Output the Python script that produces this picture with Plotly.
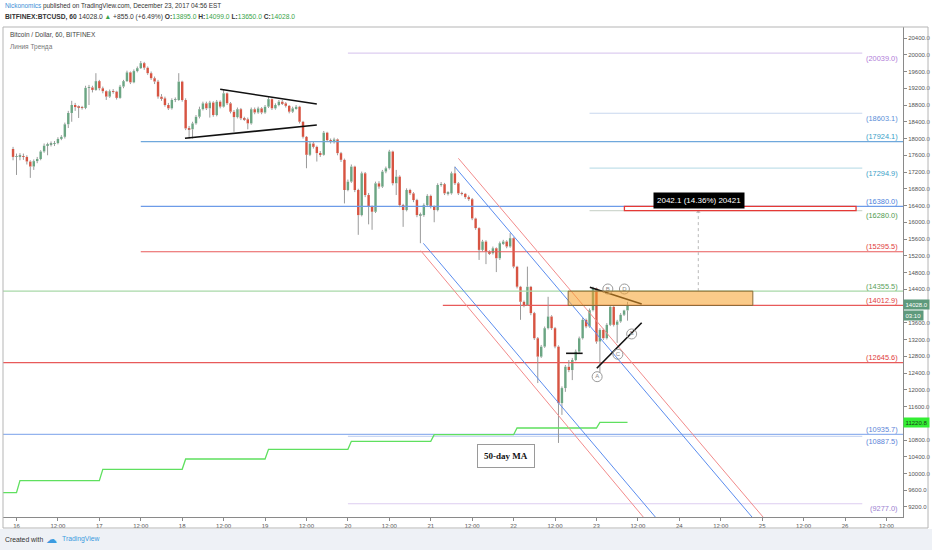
import plotly.graph_objects as go

# ------------------------------------------------------------------ data
FIRST_OPEN = 17750.0
LAST_HOUR = 177          # hours after Dec 16 00:00 of the last (current) candle

close = [17560, 17570, 17580, 17560, 17450, 17330, 17460, 17510, 17690, 17830,
         17860, 17870, 17890, 17990, 18040, 18340, 18610, 18800, 18750, 18740,
         18730, 19210, 19220, 19160, 19370, 19200, 19130, 19000, 19130, 19120,
         18970, 19240, 19370, 19580, 19340, 19610, 19680, 19800, 19690, 19560,
         19440, 19360, 19000, 18960, 18800, 18720, 18920, 18920, 19360, 18920,
         18240, 18220, 18360, 18520, 18700, 18840, 18720, 18860, 18560, 18880,
         18760, 19080, 18840, 18640, 18510, 18700, 18480, 18460, 18360, 18700,
         18620, 18720, 18620, 18760, 18940, 18720, 18800, 18880, 18840, 18780,
         18640, 18720, 18760, 18400, 18040, 17610, 17880, 17800, 17650, 17610,
         18140, 17960, 17920, 17980, 17650, 17490, 16770, 16970, 17330, 16770,
         16170, 17170, 16650, 16370, 16250, 16930, 16850, 17210, 17290, 17690,
         16930, 17090, 16410, 16290, 16770, 16690, 16530, 16170, 16170, 16410,
         16630, 16370, 16290, 16890, 16910, 16690, 16690, 17170, 16930, 16690,
         16680, 16600, 16550, 16090, 15860, 15340, 15540, 15300, 15260, 15380,
         15140, 15500, 15540, 15420, 15620, 14940, 14460, 14100, 14020, 14460,
         13830, 13230, 12790, 13030, 13470, 13750, 13470, 13030, 11680, 12040,
         12550, 12470, 12710, 12910, 13230, 13670, 13510, 13900, 14420, 13150,
         13430, 13230, 13550, 13980, 13550, 13630, 13790, 13895, 14028]

high = [17800, 17640, 17650, 17640, 17600, 17480, 17500, 17560, 17720, 17880,
        17900, 17930, 17940, 18030, 18080, 18380, 18660, 18900, 18850, 18790,
        18780, 19260, 19280, 19260, 19560, 19400, 19240, 19150, 19170, 19180,
        19140, 19280, 19400, 19620, 19600, 19650, 19720, 19850, 19830, 19720,
        19600, 19480, 19400, 19060, 19000, 18850, 18960, 18980, 19560, 19380,
        18960, 18300, 18400, 18560, 18760, 18880, 18880, 18900, 18890, 18920,
        18910, 19160, 19100, 18870, 18680, 18740, 18730, 18520, 18500, 18740,
        18740, 18760, 18750, 18800, 18990, 18960, 18840, 18920, 18920, 18870,
        18800, 18760, 18800, 18780, 18420, 18060, 17920, 17920, 17830, 17700,
        18180, 18160, 18000, 18020, 18000, 17680, 17520, 17020, 17380, 17350,
        16800, 17210, 17200, 16700, 16400, 16970, 16980, 17250, 17330, 17730,
        17710, 17250, 17120, 16440, 16810, 16800, 16720, 16560, 16230, 16450,
        16670, 16660, 16400, 16930, 16960, 16940, 16740, 17210, 17330, 16960,
        16730, 16700, 16640, 16580, 16110, 15880, 15580, 15570, 15330, 15420,
        15400, 15540, 15580, 15570, 15740, 15640, 14960, 14480, 14130, 14940,
        14480, 13860, 13260, 13070, 13510, 14220, 13780, 13500, 13060, 12080,
        12590, 12710, 12760, 12960, 13270, 13710, 13700, 13940, 14460, 14440,
        13470, 13460, 13590, 14020, 14010, 13670, 13830, 13910, 14099]

low = [17480, 17130, 17480, 17490, 17380, 17060, 17250, 17410, 17480, 17660,
       17600, 17810, 17820, 17860, 17960, 18000, 18250, 18400, 18660, 18490,
       18690, 18700, 18800, 19100, 19140, 19150, 19080, 18920, 18970, 19070,
       18930, 18950, 19200, 19350, 19300, 19320, 19580, 19660, 19640, 19520,
       19400, 19300, 18950, 18900, 18760, 18680, 18690, 18870, 18900, 18880,
       18200, 18000, 18000, 18330, 18480, 18670, 18680, 18500, 18520, 18530,
       18720, 18740, 18800, 18600, 18160, 18480, 18440, 18420, 18220, 18330,
       18580, 18590, 18580, 18590, 18730, 18680, 18690, 18770, 18800, 18740,
       18600, 18610, 18690, 18360, 18000, 17290, 17580, 17760, 17450, 17560,
       17590, 17920, 17880, 17880, 17600, 17440, 16450, 16740, 16940, 16720,
       15700, 16140, 16600, 15950, 15820, 16220, 16800, 16820, 17170, 17260,
       16880, 16650, 16360, 15890, 16260, 16650, 16480, 16120, 15500, 16130,
       16380, 16330, 16000, 16260, 16850, 16650, 16640, 16660, 16890, 16650,
       16640, 16560, 16510, 16050, 15820, 15100, 15300, 15000, 15220, 15230,
       14810, 15100, 15460, 15380, 15390, 14900, 14420, 13670, 13970, 14000,
       13780, 13190, 12160, 12760, 13000, 13440, 13430, 12990, 10730, 11400,
       11950, 12420, 12230, 12680, 12880, 13200, 13470, 13480, 13870, 13100,
       12400, 13190, 13200, 13520, 13510, 13120, 13600, 13760, 13650]

# 50-day moving average (daily values, day offset from Dec 16)
ma_day = [-1, 0, 1, 2, 3, 4, 5, 6, 7]
ma_value = [9542, 9829, 10100, 10346, 10578, 10769, 10927, 11087, 11220.8]

# horizontal levels shown with labels at the right
level_price = [20039.0, 18603.1, 17924.1, 17294.9, 16380.0, 16280.0, 15295.5,
               14355.5, 14012.9, 12645.6, 10935.7, 10887.5, 9277.0]

day_labels = ["16", "17", "18", "19", "20", "21", "22", "23", "24", "25", "26"]
price_ticks = list(range(9200, 20401, 400))
hidden_ticks = [14000, 11200]     # covered by the price tags on the axis

last_price = 14028.0
ma_last = 11220.8
measure_text = "2042.1 (14.36%) 20421"

# ------------------------------------------------------------------ geometry / styles
X_MIN, X_MAX = -3.91, 256.8
Y_MIN, Y_MAX = 8961, 20663
FIB_A, FIB_B, FIB_END = 96, 166, 245

level_style = [  # start, end, line colour, label colour, label side
    (FIB_A, FIB_END, "#ddcdf0", "#b07cd8", -1),
    (FIB_B, FIB_END, "#c8d7ee", "#5b8fd8", -1),
    (36, X_MAX, "#6fa8dc", "#3aa0c8", 1),
    (FIB_B, FIB_END, "#c2e0ea", "#3aa0c8", -1),
    (36, X_MAX, "#6d9be8", "#4a7fdc", 1),
    (FIB_B, FIB_END, "#d0d8d0", "#4f9a4f", -1),
    (36, X_MAX, "#e85a5a", "#e03c3c", 1),
    (X_MIN, X_MAX, "#a8d8a8", "#5aa05a", 1),
    (123.5, X_MAX, "#e85a5a", "#e03c3c", 1),
    (X_MIN, X_MAX, "#e85a5a", "#e03c3c", 1),
    (X_MIN, X_MAX, "#93b3ee", "#5b84d8", 1),
    (FIB_A, FIB_END, "#cad7f2", "#5b84d8", -1),
    (FIB_A, FIB_END, "#ddcdf0", "#9b7fd0", -1),
]

channels = [  # (t0, p0, t1, p1, colour)
    (117.85, 15497, 185.3, 8937, "#5b8def"),
    (117.1, 15321, 181.8, 8937, "#f28b8b"),
    (127.0, 17320, 213.3, 8937, "#5b8def"),
    (128.0, 17527, 216.5, 8937, "#f28b8b"),
]
black_lines = [
    (59.0, 19175, 87.0, 18824),
    (48.8, 18005, 87.0, 18322),
    (166.1, 14447, 181.1, 14048),
    (168.1, 12512, 181.1, 13601),
    (159.2, 12870, 164.0, 12870),
]
wave_pts = [("A", 168.2, 12312), ("B", 171.3, 14406), ("C", 174.2, 12847),
            ("D", 176.1, 14406), ("E", 178.2, 13332)]

UP, DOWN, WICK = "#6ba583", "#d75442", "#9a9a9a"
FONT = "Liberation Sans"

# ------------------------------------------------------------------ build
n = len(close)
hours = [LAST_HOUR - (n - 1) + i for i in range(n)]
opens = [FIRST_OPEN] + close[:-1]

fig = go.Figure()

# level lines
for p, (t0, t1, lc, _, _) in zip(level_price, level_style):
    fig.add_trace(go.Scatter(x=[t0, t1], y=[p, p], mode="lines",
                             line=dict(color=lc, width=1.2), hoverinfo="skip",
                             showlegend=False))

# wicks (split so they do not cross the bodies)
wx, wy = [], []
for t, o, c, h, l in zip(hours, opens, close, high, low):
    top, bot = max(o, c), min(o, c)
    wx += [t, t, None, t, t, None]
    wy += [max(h, top), top, None, bot, min(l, bot), None]
fig.add_trace(go.Scatter(x=wx, y=wy, mode="lines", line=dict(color=WICK, width=1),
                         hoverinfo="skip", showlegend=False))

# bodies
fig.add_trace(go.Bar(
    x=hours,
    base=[min(o, c) for o, c in zip(opens, close)],
    y=[max(abs(c - o), 14) for o, c in zip(opens, close)],
    width=0.7,
    marker=dict(color=[UP if c >= o else DOWN for o, c in zip(opens, close)],
                line=dict(width=0)),
    hoverinfo="skip", showlegend=False))

# 50-day MA step line
mx, my = [X_MIN - 1], [ma_value[0]]
for d, v_prev, v in zip(ma_day[1:], ma_value[:-1], ma_value[1:]):
    mx += [24 * d, 24 * d + 1]
    my += [v_prev, v]
mx.append(LAST_HOUR)
my.append(ma_value[-1])
fig.add_trace(go.Scatter(x=mx, y=my, mode="lines", line=dict(color="#5fe05f", width=1.3),
                         hoverinfo="skip", showlegend=False))

# channels
for t0, p0, t1, p1, col in channels:
    fig.add_trace(go.Scatter(x=[t0, t1], y=[p0, p1], mode="lines",
                             line=dict(color=col, width=1), hoverinfo="skip",
                             showlegend=False))

# black trend lines
for t0, p0, t1, p1 in black_lines:
    fig.add_trace(go.Scatter(x=[t0, t1], y=[p0, p1], mode="lines",
                             line=dict(color="#111111", width=1.6), hoverinfo="skip",
                             showlegend=False))

# measure dashed line with arrow
fig.add_trace(go.Scatter(x=[197.5, 197.5], y=[level_price[7], 16262], mode="lines",
                         line=dict(color="#b8b8b8", width=1, dash="dot"),
                         hoverinfo="skip", showlegend=False))
fig.add_trace(go.Scatter(x=[197.5], y=[16250], mode="markers",
                         marker=dict(symbol="triangle-up", size=4, color="#b8b8b8"),
                         hoverinfo="skip", showlegend=False))

# wave letters
fig.add_trace(go.Scatter(x=[w[1] for w in wave_pts], y=[w[2] for w in wave_pts],
                         mode="markers+text", text=[w[0] for w in wave_pts],
                         textposition="middle center",
                         textfont=dict(size=6, color="#8a8a8a", family=FONT),
                         marker=dict(symbol="circle-open", size=10, color="#9a9a9a",
                                     line=dict(width=1)),
                         hoverinfo="skip", showlegend=False))

shapes = [
    # orange zone
    dict(type="rect", xref="x", yref="y", x0=159.8, x1=213.3,
         y0=level_price[8], y1=level_price[7],
         fillcolor="rgba(245,160,40,0.55)", line=dict(color="#8a6a3a", width=1)),
    # red target box
    dict(type="rect", xref="x", yref="y", x0=176.1, x1=243.2,
         y0=level_price[5], y1=level_price[4],
         fillcolor="rgba(255,255,255,0.85)", line=dict(color="#e53935", width=1.3)),
    # outer frame
    dict(type="rect", xref="paper", yref="paper", x0=0, x1=1.0278, y0=-0.02245, y1=1,
         line=dict(color="#b5b5b5", width=1), fillcolor="rgba(0,0,0,0)"),
    # footer band
    dict(type="rect", xref="paper", yref="paper", x0=-0.01, x1=1.04, y0=-0.0694,
         y1=-0.0245, line=dict(width=0), fillcolor="#eef1f6", layer="below"),
]

ann = []
# level labels
for p, (_, _, _, tc, side) in zip(level_price, level_style):
    ann.append(dict(x=0.9967, xref="paper", y=p, yref="y", xanchor="right",
                    yanchor="middle", yshift=5 * side, showarrow=False,
                    text=f"({p:.1f})", font=dict(size=7.4, color=tc, family=FONT)))

# axis price tags
ann += [
    dict(x=1.0, xref="paper", y=last_price, yref="y", xanchor="left", yanchor="middle",
         showarrow=False, text=f"{last_price:.1f}", bgcolor="#5e9a7c",
         font=dict(size=6, color="white", family=FONT), borderpad=1.5),
    dict(x=1.0, xref="paper", y=last_price, yref="y", xanchor="left", yanchor="middle",
         yshift=-11, showarrow=False, text="03:10", bgcolor="#5e9a7c",
         font=dict(size=6, color="white", family=FONT), borderpad=1.5),
    dict(x=1.0, xref="paper", y=ma_last, yref="y", xanchor="left", yanchor="middle",
         showarrow=False, text=f"{ma_last:.1f}", bgcolor="#33ee33",
         font=dict(size=6, color="#1a3a1a", family=FONT), borderpad=1.5),
]

# measure tooltip and MA callout
ann += [
    dict(x=197.8, y=16531, xref="x", yref="y", showarrow=False, text=measure_text,
         bgcolor="#000000", font=dict(size=8, color="white", family=FONT), borderpad=3),
    dict(x=141.9, y=10418, xref="x", yref="y", showarrow=False, text="<b>50-day MA</b>",
         bgcolor="white", bordercolor="#9a9a9a", borderwidth=1, borderpad=6,
         font=dict(size=9, color="#111111", family="Liberation Serif")),
]

# header texts
G = "#3aa44a"
ann += [
    dict(x=0, xref="paper", y=1.0429, yref="paper", xanchor="left", yanchor="middle",
         showarrow=False, font=dict(size=6.4, color="#333333", family=FONT),
         text='<span style="color:#3d8fd6">Nickonomics</span> published on TradingView.com, '
              'December 23, 2017 04:56 EST'),
    dict(x=0, xref="paper", y=1.0204, yref="paper", xanchor="left", yanchor="middle",
         showarrow=False, font=dict(size=6.7, color="#333333", family=FONT),
         text=f'<b>BITFINEX:BTCUSD, 60</b> 14028.0 <span style="color:{G}">▲</span> +855.0 (+6.49%) '
              f'<b>O:</b><span style="color:{G}">13895.0</span> <b>H:</b><span style="color:{G}">14099.0</span> '
              f'<b>L:</b><span style="color:{G}">13650.0</span> <b>C:</b><span style="color:{G}">14028.0</span>'),
    dict(x=0.0056, xref="paper", y=0.9837, yref="paper", xanchor="left", yanchor="middle",
         showarrow=False, text="Bitcoin / Dollar, 60, BITFINEX",
         font=dict(size=6.5, color="#444444", family=FONT)),
    dict(x=0.0056, xref="paper", y=0.9592, yref="paper", xanchor="left", yanchor="middle",
         showarrow=False, text="Линия Тренда", font=dict(size=6.5, color="#777777", family=FONT)),
    dict(x=0, xref="paper", y=-0.0449, yref="paper", xanchor="left", yanchor="middle",
         showarrow=False, font=dict(size=6.8, color="#333333", family=FONT),
         text='Created with'),
    dict(x=0.0456, xref="paper", y=-0.0449, yref="paper", xanchor="left", yanchor="middle",
         showarrow=False, font=dict(size=11, color="#3c9be0", family="DejaVu Sans"),
         text='☁'),
    dict(x=0.0633, xref="paper", y=-0.0449, yref="paper", xanchor="left", yanchor="middle",
         showarrow=False, font=dict(size=6.8, color="#3c9be0", family=FONT),
         text='TradingView'),
]

tickvals_x = list(range(0, 253, 12))
ticktext_x = []
for i in range(len(tickvals_x)):
    ticktext_x.append(day_labels[i // 2] if i % 2 == 0 else "12:00")

ticktext_y = ["" if v in hidden_ticks else f"{v:.1f}" for v in price_ticks]

fig.update_layout(
    width=932, height=550,
    margin=dict(l=3, r=29, t=27, b=33, autoexpand=False),
    paper_bgcolor="white", plot_bgcolor="white",
    showlegend=False, barmode="overlay",
    shapes=shapes, annotations=ann,
    xaxis=dict(range=[X_MIN, X_MAX], showgrid=False, zeroline=False,
               showline=True, linecolor="#8a8a8a", linewidth=1,
               ticks="outside", ticklen=3, tickcolor="#8a8a8a",
               tickvals=tickvals_x, ticktext=ticktext_x,
               tickfont=dict(size=6, color="#555555", family=FONT)),
    yaxis=dict(range=[Y_MIN, Y_MAX], side="right", showgrid=False, zeroline=False,
               showline=True, linecolor="#8a8a8a", linewidth=1,
               ticks="outside", ticklen=3, tickcolor="#8a8a8a",
               tickvals=price_ticks, ticktext=ticktext_y,
               tickfont=dict(size=6, color="#555555", family=FONT)),
)

fig.write_html("out.html", config={"displayModeBar": False},
               post_script="document.body.style.margin='0px';document.body.style.padding='0px';")
